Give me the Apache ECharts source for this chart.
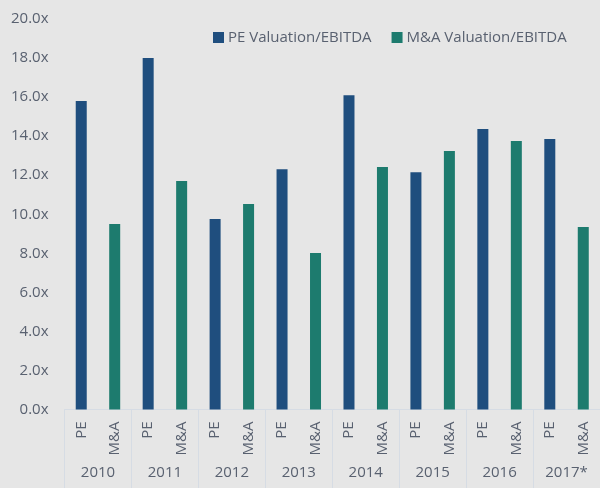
<!DOCTYPE html>
<html>
<head>
<meta charset="utf-8">
<script src="https://cdn.jsdelivr.net/npm/echarts@6/dist/echarts.min.js"></script>
<style>
  html, body { margin: 0; padding: 0; background: #e6e6e6; }
  #main { width: 600px; height: 488px; }
</style>
</head>
<body>
<div id="main"></div>
<script>
var years = ['2010', '2011', '2012', '2013', '2014', '2015', '2016', '2017*'];
var peValues = [15.8, 18.0, 9.76, 12.3, 16.1, 12.15, 14.37, 13.85];
var maValues = [9.5, 11.7, 10.52, 8.02, 12.42, 13.24, 13.75, 9.35];
var yTicks = [0, 2, 4, 6, 8, 10, 12, 14, 16, 18, 20];

var textColor = '#596170';
var font = 'Open Sans';

// each year has two slots: PE then M&A
var slots = [];
var peData = [];
var maData = [];
years.forEach(function (y, i) {
  slots.push('PE', 'M&A');
  peData.push(peValues[i], '-');
  maData.push('-', maValues[i]);
});

var chartDom = document.getElementById('main');
var myChart = echarts.init(chartDom);
var option;

option = {
  backgroundColor: '#e6e6e6',
  animation: false,
  legend: {
    data: ['PE Valuation/EBITDA', 'M&A Valuation/EBITDA'],
    left: 208,
    top: 25,
    itemWidth: 11,
    itemHeight: 11,
    itemGap: 20,
    icon: 'rect',
    textStyle: { color: textColor, fontSize: 15, fontFamily: font, padding: [0, 0, 0, -1] }
  },
  grid: {
    left: 64.5,
    top: 19,
    width: 544,
    bottom: 78.5,
    containLabel: false
  },
  xAxis: [
    {
      type: 'category',
      data: slots,
      axisLine: { show: true, lineStyle: { color: '#d6dce4', width: 1 } },
      axisTick: { show: false },
      axisLabel: {
        rotate: 90,
        margin: 12,
        color: textColor,
        fontSize: 15,
        fontFamily: font
      }
    },
    {
      type: 'category',
      data: years,
      position: 'bottom',
      axisLine: { show: false },
      axisTick: {
        show: true,
        length: 80,
        lineStyle: { color: '#d6dce4', width: 1 }
      },
      axisLabel: {
        margin: 56,
        color: textColor,
        fontSize: 15,
        fontFamily: font
      }
    }
  ],
  yAxis: [
    {
      type: 'value',
      min: yTicks[0],
      max: yTicks[yTicks.length - 1],
      interval: 2,
      axisLine: { show: false },
      axisTick: { show: false },
      splitLine: { show: false },
      axisLabel: {
        margin: 16,
        color: textColor,
        fontSize: 15,
        fontFamily: font,
        formatter: function (v) { return v.toFixed(1) + 'x'; }
      }
    }
  ],
  series: [
    {
      name: 'PE Valuation/EBITDA',
      type: 'bar',
      stack: 'total',
      data: peData,
      barWidth: 11,
      itemStyle: { color: '#1f4e7e' }
    },
    {
      name: 'M&A Valuation/EBITDA',
      type: 'bar',
      stack: 'total',
      data: maData,
      barWidth: 11,
      itemStyle: { color: '#1d7b6e' }
    }
  ]
};

option && myChart.setOption(option);
</script>
</body>
</html>
